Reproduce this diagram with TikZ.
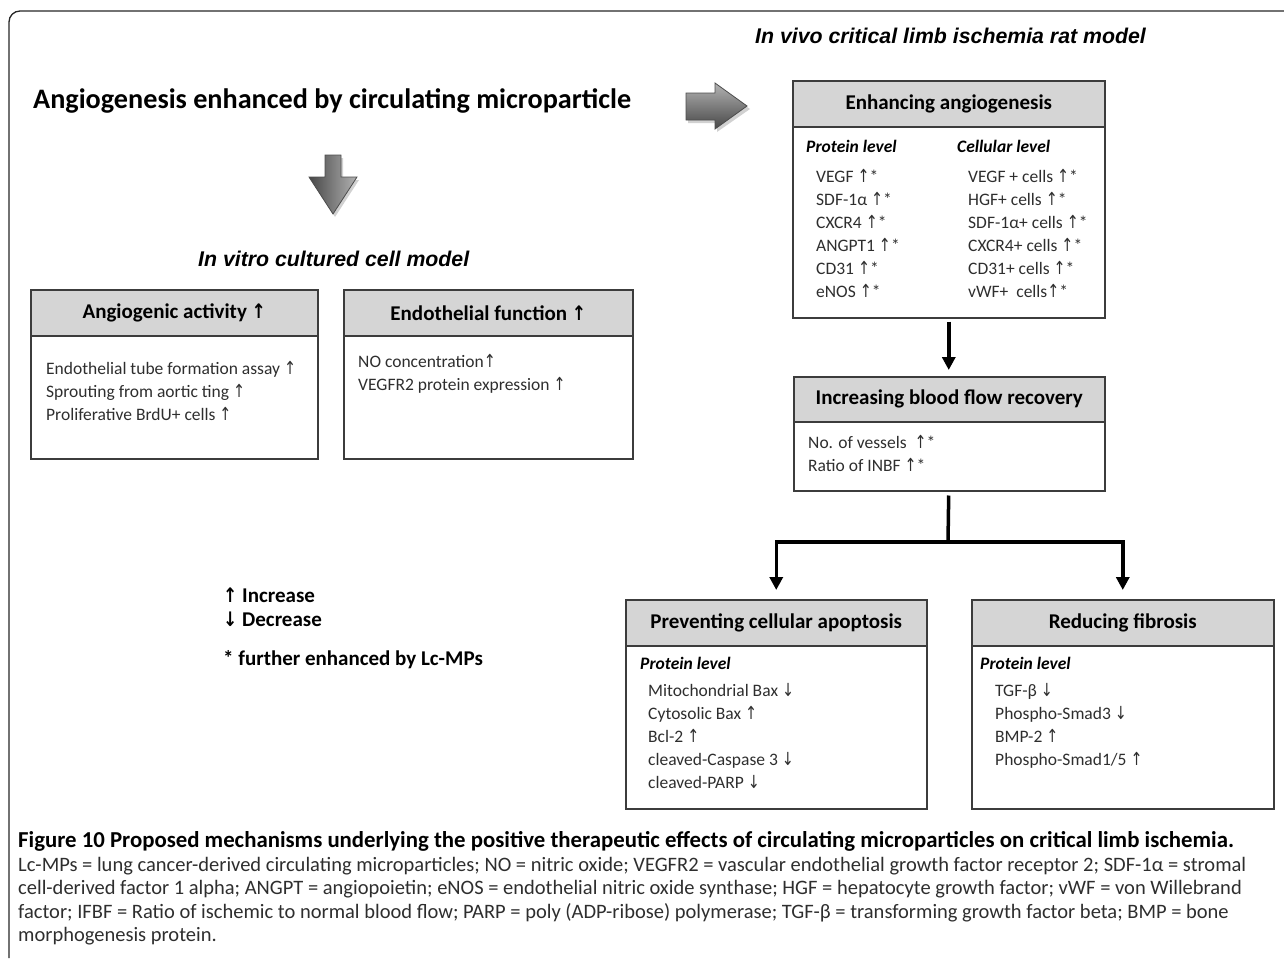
\documentclass[tikz,border=0pt]{standalone}
\usepackage{fontspec}
\setmainfont{Carlito}
\newfontfamily\arialfont{Liberation Sans}
\newfontfamily\arrowfont{DejaVu Sans}
\usetikzlibrary{arrows.meta}
\definecolor{boxc}{HTML}{3C3C3C}
\definecolor{hdrc}{HTML}{D5D5D5}
\definecolor{txtc}{HTML}{2E2E2E}
\newcommand{\UpA}{\scalebox{0.8}[1]{\arrowfont\fontsize{18}{18}\selectfont ↑}}
\newcommand{\DnA}{\scalebox{0.8}[1]{\arrowfont\fontsize{18}{18}\selectfont ↓}}
\newcommand{\HUpA}{\scalebox{0.85}[1]{\arrowfont\bfseries\fontsize{20}{20}\selectfont ↑}}
\tikzset{
  hdr/.style={draw=boxc, fill=hdrc, line width=1.5pt, anchor=north west, inner sep=0pt,
    minimum height=46pt, font=\fontsize{21}{25}\selectfont\bfseries},
  bodyb/.style={draw=boxc, line width=1.5pt, anchor=north west, inner sep=0pt},
  item/.style={anchor=west, inner sep=0pt, text=txtc, font=\fontsize{17.5}{21}\selectfont,
    text height=12pt, text depth=4pt},
  lvl/.style={anchor=west, inner sep=0pt, font=\fontsize{17.5}{21}\selectfont\bfseries\itshape,
    text height=12pt, text depth=4pt},
  model/.style={anchor=west, inner sep=0pt, font=\arialfont\fontsize{21.3}{25}\selectfont\bfseries\itshape},
  legend/.style={anchor=west, inner sep=0pt, font=\fontsize{21}{25}\selectfont\bfseries,
    text height=14pt, text depth=4pt},
  capline/.style={anchor=west, inner sep=0pt, text=txtc, font=\fontsize{20.5}{23}\selectfont,
    text height=13pt, text depth=4pt},
  conn/.style={line width=3.5pt, -{Triangle[length=13pt,width=13pt]}},
  plain/.style={line width=3.5pt},
}
\begin{document}
\begin{tikzpicture}[x=1pt,y=-1pt]
\useasboundingbox (0,0) rectangle (1284,958);
% outer frame
\draw[line width=1.3pt, black!85, rounded corners=11pt] (1284,11) -- (9,11) -- (9,958);

% title
\node[anchor=west, inner sep=0pt, font=\fontsize{28.2}{32}\selectfont\bfseries] (title) at (33,101)
  {Angiogenesis enhanced by circulating microparticle};

% gray block arrows
\fill[black!18] (688,96) -- (717,96) -- (717,86) -- (750,109) -- (717,132) -- (717,123) -- (688,123) -- cycle;
\shade[top color=black!30, bottom color=black!72, draw=black!70, line width=0.8pt]
  (686,93) -- (715,93) -- (715,83) -- (747,106) -- (715,129) -- (715,120) -- (686,120) -- cycle;
\fill[black!18] (327,158) -- (343,158) -- (343,180) -- (359,180) -- (335,217) -- (311,180) -- (327,180) -- cycle;
\shade[left color=black!72, right color=black!30, draw=black!70, line width=0.8pt]
  (325,155) -- (341,155) -- (341,177) -- (357,177) -- (333,214) -- (309,177) -- (325,177) -- cycle;

% model titles
\node[model] (vivo) at (755,36) {In vivo critical limb ischemia rat model};
\node[model] (vitro) at (198,259) {In vitro cultured cell model};

% Angiogenic activity box
\node[hdr, minimum width=287pt] (anghead) at (30,289) {Angiogenic activity \HUpA};
\node[bodyb, minimum width=287pt, minimum height=123pt] (angbody) at (30,335) {};
\node[item] (a1) at (46,370) {Endothelial tube formation assay \UpA};
\node[item] (a2) at (46,393) {Sprouting from aortic ting \UpA};
\node[item] (a3) at (46,416) {Proliferative BrdU+ cells \UpA};

% Endothelial function box
\node[hdr, minimum width=289pt] (endhead) at (343,289) {Endothelial function \HUpA};
\node[bodyb, minimum width=289pt, minimum height=123pt] (endbody) at (343,335) {};
\node[item] (e1) at (358,363) {NO concentration\UpA};
\node[item] (e2) at (358,386) {VEGFR2 protein expression \UpA};

% Enhancing angiogenesis box
\node[hdr, minimum width=312pt] (enhhead) at (792,80) {Enhancing angiogenesis};
\node[bodyb, minimum width=312pt, minimum height=191pt] (enhbody) at (792,126) {};
\node[lvl] (plv1) at (806,148) {Protein level};
\node[lvl] (clv1) at (957,148) {Cellular level};
\node[item] (p1) at (816,178) {VEGF \UpA*};
\node[item] (p2) at (816,201) {SDF-1α \UpA*};
\node[item] (p3) at (816,224) {CXCR4 \UpA*};
\node[item] (p4) at (816,247) {ANGPT1 \UpA*};
\node[item] (p5) at (816,270) {CD31 \UpA*};
\node[item] (p6) at (816,293) {eNOS \UpA*};
\node[item] (c1) at (968,178) {VEGF + cells \UpA*};
\node[item] (c2) at (968,201) {HGF+ cells \UpA*};
\node[item] (c3) at (968,224) {SDF-1α+ cells \UpA*};
\node[item] (c4) at (968,247) {CXCR4+ cells \UpA*};
\node[item] (c5) at (968,270) {CD31+ cells \UpA*};
\node[item] (c6) at (968,293) {vWF+\ \ cells\UpA*};

% Blood flow box
\node[hdr, minimum width=311pt, minimum height=45pt] (bldhead) at (793,376) {Increasing blood flow recovery};
\node[bodyb, minimum width=311pt, minimum height=69pt] (bldbody) at (793,421) {};
\node[item] (b1) at (808,444) {No. of vessels\ \ \UpA*};
\node[item] (b2) at (808,467) {Ratio of INBF \UpA*};

% Apoptosis box
\node[hdr, minimum width=301pt] (apohead) at (625,599) {Preventing cellular apoptosis};
\node[bodyb, minimum width=301pt, minimum height=163pt] (apobody) at (625,645) {};
\node[lvl] (plv2) at (640,665) {Protein level};
\node[item] (m1) at (648,692) {Mitochondrial Bax \DnA};
\node[item] (m2) at (648,715) {Cytosolic Bax \UpA};
\node[item] (m3) at (648,738) {Bcl-2 \UpA};
\node[item] (m4) at (648,761) {cleaved-Caspase 3 \DnA};
\node[item] (m5) at (648,784) {cleaved-PARP \DnA};

% Fibrosis box
\node[hdr, minimum width=302pt] (fibhead) at (971,599) {Reducing fibrosis};
\node[bodyb, minimum width=302pt, minimum height=163pt] (fibbody) at (971,645) {};
\node[lvl] (plv3) at (980,665) {Protein level};
\node[item] (f1) at (995,692) {TGF-β \DnA};
\node[item] (f2) at (995,715) {Phospho-Smad3 \DnA};
\node[item] (f3) at (995,738) {BMP-2 \UpA};
\node[item] (f4) at (995,761) {Phospho-Smad1/5 \UpA};

% connectors
\draw[conn, shorten <=3pt, shorten >=6pt] (enhbody.south) -- (enhbody.south |- bldhead.north);
\coordinate (split) at (948,542);
\draw[plain, shorten <=4pt] (enhbody.south |- bldbody.south) -- (split);
\draw[conn, shorten >=9pt] (split) -| (apohead.north);
\draw[conn, shorten >=9pt] (split) -| (fibhead.north);

% legend
\node[legend] (lg1) at (223,597) {\scalebox{0.85}[1]{\arrowfont\bfseries\fontsize{20}{20}\selectfont ↑} Increase};
\node[legend] (lg2) at (223,621) {\scalebox{0.85}[1]{\arrowfont\bfseries\fontsize{20}{20}\selectfont ↓} Decrease};
\node[legend] (lg3) at (223,660) {* further enhanced by Lc-MPs};

% caption
\node[capline, font=\fontsize{22.8}{26}\selectfont\bfseries, text=black] (cap0) at (18,843)
  {Figure 10 Proposed mechanisms underlying the positive therapeutic effects of circulating microparticles on critical limb ischemia.};
\node[capline] (cap1) at (18,867) {Lc-MPs = lung cancer-derived circulating microparticles; NO = nitric oxide; VEGFR2 = vascular endothelial growth factor receptor 2; SDF-1α = stromal};
\node[capline] (cap2) at (18,890) {cell-derived factor 1 alpha; ANGPT = angiopoietin; eNOS = endothelial nitric oxide synthase; HGF = hepatocyte growth factor; vWF = von Willebrand};
\node[capline] (cap3) at (18,914) {factor; IFBF = Ratio of ischemic to normal blood flow; PARP = poly (ADP-ribose) polymerase; TGF-β = transforming growth factor beta; BMP = bone};
\node[capline] (cap4) at (18,937) {morphogenesis protein.};
\end{tikzpicture}
\end{document}
